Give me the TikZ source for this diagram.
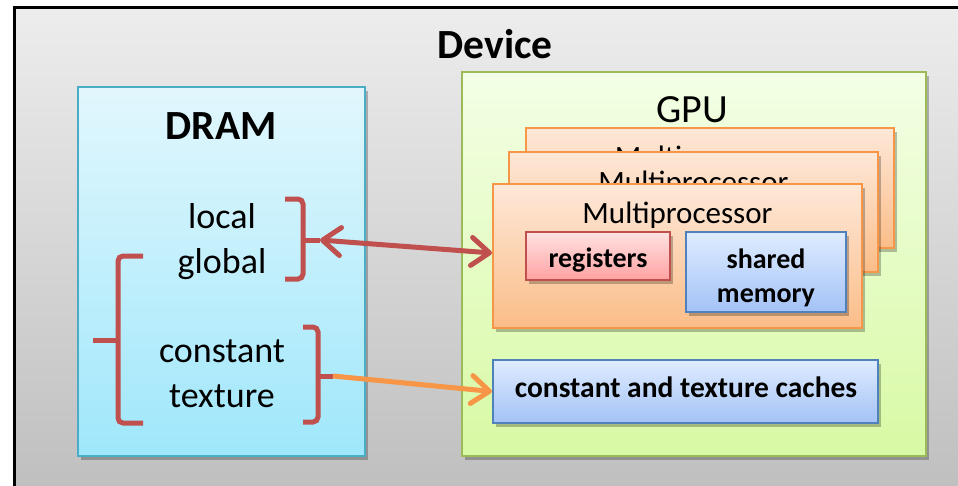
\documentclass[tikz,border=0pt]{standalone}
\usepackage{fontspec}
\setmainfont{Carlito}
\usetikzlibrary{arrows.meta,shadows}
\definecolor{bgtop}{HTML}{EDEDED}
\definecolor{bgbot}{HTML}{BDBDBD}
\definecolor{dramtop}{HTML}{E2F7FD}
\definecolor{drambot}{HTML}{9FE7FB}
\definecolor{dramline}{HTML}{4BACC6}
\definecolor{gputop}{HTML}{F3FFE6}
\definecolor{gpubot}{HTML}{D8F9A4}
\definecolor{gpuline}{HTML}{9BBB59}
\definecolor{mptop}{HTML}{FDE8D8}
\definecolor{mpbot}{HTML}{FBBD88}
\definecolor{mpline}{HTML}{F79646}
\definecolor{regtop}{HTML}{FFE2E2}
\definecolor{regbot}{HTML}{FFA2A2}
\definecolor{regline}{HTML}{C0504D}
\definecolor{smtop}{HTML}{DFECFF}
\definecolor{smbot}{HTML}{A3C2F6}
\definecolor{smline}{HTML}{4F81BD}
\definecolor{brkred}{HTML}{C0504D}
\definecolor{arrorange}{HTML}{F79646}
\tikzset{
  shad/.style={drop shadow={shadow xshift=3pt,shadow yshift=-4pt,opacity=0.25,fill=black}},
  panel/.style={draw,line width=2pt,shad,inner sep=0pt},
  drambox/.style={panel,draw=dramline,top color=dramtop,bottom color=drambot},
  gpubox/.style={panel,draw=gpuline,top color=gputop,bottom color=gpubot},
  mpbox/.style={panel,draw=mpline,top color=mptop,bottom color=mpbot},
  regbox/.style={panel,draw=regline,top color=regtop,bottom color=regbot},
  smbox/.style={panel,draw=smline,top color=smtop,bottom color=smbot},
  bigbold/.style={font=\bfseries\fontsize{41.5}{48}\selectfont,anchor=base,inner sep=0pt},
  bigreg/.style={font=\fontsize{40}{48}\selectfont,anchor=base,inner sep=0pt},
  memtxt/.style={font=\fontsize{36}{44}\selectfont,anchor=base,inner sep=0pt},
  mptxt/.style={font=\fontsize{31}{37}\selectfont,anchor=base,inner sep=0pt},
  smalltxt/.style={font=\bfseries\fontsize{28}{34}\selectfont,anchor=base,inner sep=0pt},
  cachetxt/.style={font=\bfseries\fontsize{29.5}{34}\selectfont,anchor=base,inner sep=0pt},
  brk/.style={draw=brkred,line width=5pt,rounded corners=5pt},
  barb/.tip={Straight Barb[length=18pt,width=28pt,round]},
}
\begin{document}
\begin{tikzpicture}[x=1pt,y=-1pt]
\useasboundingbox (0,0) rectangle (958,485);
\clip (0,0) rectangle (958,485);
\fill[white] (0,0) rectangle (958,485);
\draw[line width=3pt,top color=bgtop,bottom color=bgbot] (14,7) rectangle (990,510);
\node[bigbold] (device) at (495,58) {Device};
% DRAM
\node[drambox,minimum width=287pt,minimum height=369pt] (dram) at (221.5,271.5) {};
\node[bigbold] (dramt) at (221,139) {DRAM};
\node[memtxt] (lcl) at (222,228) {local};
\node[memtxt] (glb) at (222,273) {global};
\node[memtxt] (cst) at (222,362) {constant};
\node[memtxt] (tex) at (222,407) {texture};
% GPU
\node[gpubox,minimum width=464pt,minimum height=384pt] (gpu) at (694,264) {};
\node[bigreg] (gput) at (692,122) {GPU};
\node[mpbox,minimum width=368pt,minimum height=120pt] (mpb) at (710,188) {};
\node[mptxt] (mpbt) at (710,167) {Multiprocessor};
\node[mpbox,minimum width=369pt,minimum height=120pt] (mpm) at (693.5,212) {};
\node[mptxt] (mpmt) at (693.5,192) {Multiprocessor};
\node[mpbox,minimum width=369pt,minimum height=144pt] (mpf) at (677.5,256) {};
\node[mptxt] (mpft) at (677.5,223) {Multiprocessor};
\node[regbox,minimum width=144pt,minimum height=48pt] (reg) at (598,256) {};
\node[smalltxt] (regt) at (598,267) {registers};
\node[smbox,minimum width=160pt,minimum height=80pt] (sm) at (766,272) {};
\node[smalltxt] (smt1) at (766,268) {shared};
\node[smalltxt] (smt2) at (766,302) {memory};
\node[smbox,minimum width=385pt,minimum height=63pt] (cache) at (685.5,391.5) {};
\node[cachetxt] (cachet) at (686,397) {constant and texture caches};
% brackets
\coordinate (nubA) at (320,240);
\coordinate (nubC) at (333,376);
\draw[brk] (285,199) -- (303,199) -- (303,279) -- (285,279);
\draw[brk] (303,240) -- (nubA);
\draw[brk] (143,256) -- (118,256) -- (118,423) -- (143,423);
\draw[brk] (118,340) -- (93,340);
\draw[brk] (303,327) -- (318,327) -- (318,422) -- (303,422);
\draw[brk] (318,376) -- (nubC);
% arrows
\draw[draw=brkred,line width=5pt,barb-barb] (nubA) -- ([yshift=3pt]mpf.west);
\draw[draw=arrorange,line width=5pt,-barb] (nubC) -- (cache.west);
\end{tikzpicture}
\end{document}
